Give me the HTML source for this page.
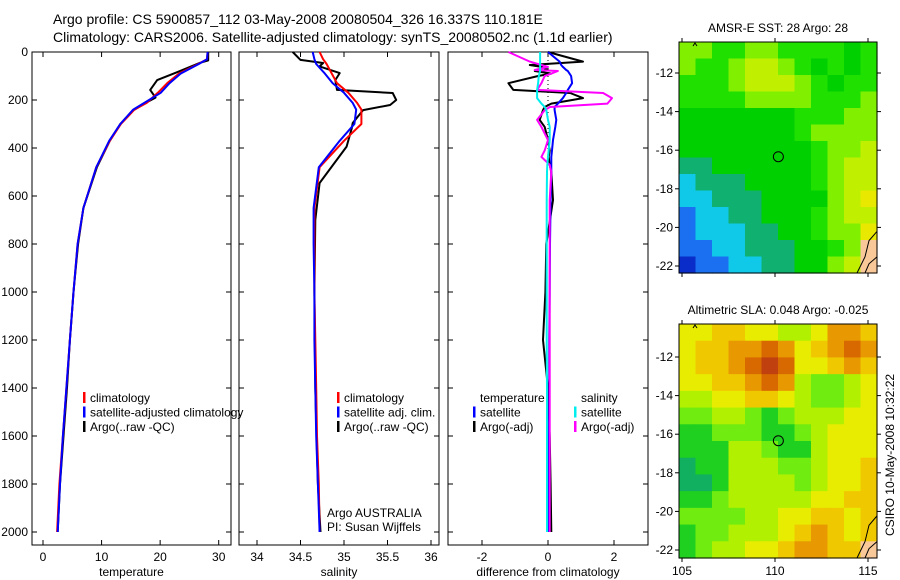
<!DOCTYPE html>
<html><head><meta charset="utf-8"><style>
html,body{margin:0;padding:0;background:#fff;}
svg{display:block;font-family:"Liberation Sans",sans-serif;}
</style></head><body>
<svg id="fig" width="900" height="580" viewBox="0 0 900 580" xmlns="http://www.w3.org/2000/svg"></svg>
<script>
// ---------- data ----------
const climDepth = [0,30,50,90,130,170,212,240,300,370,480,650,800,1000,1200,1400,1600,1800,2000];
const climTemp  = [28.1,28.0,26.5,23.2,21.2,19.6,17.7,15.6,13.3,11.4,9.1,6.9,5.9,5.2,4.6,4.0,3.4,2.8,2.4];
const satTemp   = [28.1,28.0,26.6,23.5,21.6,20.1,17.3,15.4,13.2,11.3,9.1,6.9,5.9,5.2,4.6,4.0,3.4,2.9,2.5];
const argoDepth = [0,35,45,85,117,158,190,215,245,300,370,480,650,800,1000,1200,1400,1600,1800,2000];
const argoTemp  = [28.2,28.2,26.8,22.8,19.5,18.3,19.2,17.3,15.3,13.2,11.4,9.2,6.9,6.0,5.2,4.6,4.1,3.5,2.9,2.5];

const climSal = [34.72,34.76,34.80,34.86,34.92,35.05,35.15,35.20,35.20,35.00,34.72,34.66,34.66,34.66,34.67,34.68,34.69,34.71,34.72];
const satSal  = [34.64,34.66,34.68,34.78,34.87,35.00,35.10,35.14,35.12,34.95,34.71,34.65,34.65,34.66,34.66,34.67,34.68,34.70,34.72];
const argoSalDepth = [0,33,46,60,88,117,158,171,200,221,242,296,317,394,546,700,1000,1400,1800,2000];
const argoSal = [34.41,34.50,34.76,34.72,34.95,34.90,34.92,35.56,35.60,35.53,35.22,35.10,35.09,35.03,34.72,34.67,34.66,34.67,34.70,34.73];

const diffDepth = [0,40,54,62,75,79,90,100,130,158,171,192,215,229,242,283,312,367,410,437,470,500,617,800,1000,1200,1400,1600,1800,2000];
const diffSatT  = [0,0.35,0.4,0.45,0.55,0.6,0.65,0.7,0.73,0.6,0.55,0.45,0.3,0.2,0.2,0.25,0.22,0.15,0.12,0.1,0.1,0.1,0.08,0.06,0.05,0.04,0.04,0.03,0.03,0.03];
const diffArgoT = [0,1.06,-0.55,-0.2,0,-0.4,0.1,-0.3,-1.2,-1.05,0.67,1.06,0.1,-0.1,-0.15,-0.25,-0.1,0,0.05,0.02,0.05,0.1,0.15,-0.05,-0.08,-0.15,0.0,0.05,0.08,0.1];
const diffSatS  = [-0.24,-0.24,-0.24,-0.24,-0.24,-0.24,-0.26,-0.28,-0.3,-0.33,-0.33,-0.33,-0.2,-0.1,-0.05,0,0.05,0.05,0.02,0.0,-0.02,-0.03,-0.04,-0.04,-0.04,-0.04,-0.03,-0.03,-0.03,-0.03];
const diffArgoS = [-1.2,-0.55,-0.2,0,-0.4,0.3,0.1,-0.1,-0.2,-0.33,1.67,1.94,1.8,0.06,-0.1,-0.33,-0.2,0,-0.1,-0.2,0.05,0.1,0.05,0.05,0.05,0.05,0.05,0.05,0.05,0.05];

const depthTicks = [0,200,400,600,800,1000,1200,1400,1600,1800,2000];
const tempTicks = [0,10,20,30];
const salTicks = [34,34.5,35,35.5,36];
const diffTicks = [-2,0,2];
const latTicks = [-12,-14,-16,-18,-20,-22];
const lonTicks = [105,110,115];

const sstGrid = [
[6,6,5,5,6,6,5,5,5,5,4,5],
[6,5,5,6,7,7,6,5,4,5,4,5],
[5,5,5,6,7,7,7,6,5,4,5,5],
[5,5,5,5,6,6,6,6,5,5,5,6],
[4,4,4,4,4,4,4,5,5,5,6,6],
[4,4,4,4,4,4,4,5,6,6,6,6],
[4,4,4,4,4,4,4,4,5,6,6,7],
[3,3,4,4,4,4,4,4,5,6,7,7],
[2,3,3,3,4,4,4,4,5,6,7,7],
[2,2,3,3,3,4,4,4,4,6,7,8],
[1,2,2,3,3,4,4,4,5,6,7,7],
[1,2,2,2,3,3,4,4,5,6,6,8],
[1,1,2,2,3,3,3,4,4,5,6,9],
[0,1,1,2,2,3,3,4,4,6,7,9]];
const slaGrid = [
[4,4,5,5,4,4,3,3,4,6,6,5],
[4,5,5,6,6,7,6,4,5,6,7,6],
[4,5,5,6,7,8,7,4,4,5,6,5],
[4,4,5,5,6,7,6,3,2,2,3,4],
[3,3,4,4,5,5,4,3,2,2,3,4],
[2,2,3,3,2,1,2,3,3,3,4,4],
[1,1,2,2,2,1,1,2,3,4,4,4],
[1,1,1,3,3,2,1,1,3,4,4,4],
[0,1,1,3,3,3,2,2,3,4,4,5],
[0,0,1,3,3,3,3,2,3,4,4,5],
[1,1,2,3,3,3,3,3,4,4,5,5],
[2,2,2,2,3,3,4,4,5,5,4,5],
[1,2,2,3,3,3,4,5,6,5,4,5],
[1,2,3,3,4,4,5,6,6,5,5,9]];
const argoLon = 110.181, argoLat = -16.337;

// ---------- helpers ----------
const NS="http://www.w3.org/2000/svg";
const svg=document.getElementById('fig');
function mk(tag,attrs,parent){const e=document.createElementNS(NS,tag);for(const k in attrs)e.setAttribute(k,attrs[k]);(parent||svg).appendChild(e);return e;}
function txt(s,x,y,anchor,size,parent){const t=mk('text',{x:x,y:y,'text-anchor':anchor||'start','font-size':size||12,fill:'#000'},parent);t.textContent=s;return t;}

const yD = d => 52 + d*0.24;
const panels = [
 {name:'temperature', x0:32, x1:231, v0:-1.88, v1:32.1, ticks:tempTicks, label:'temperature'},
 {name:'salinity', x0:239, x1:439, v0:33.793, v1:36.092, ticks:salTicks, label:'salinity'},
 {name:'difference', x0:448, x1:648, v0:-3.03, v1:3.03, ticks:diffTicks, label:'difference from climatology'}];
const PT=52, PB=545;
function xf(p){return v=>p.x0+(v-p.v0)/(p.v1-p.v0)*(p.x1-p.x0);}

// titles
let t1=txt('Argo profile: CS 5900857_112 03-May-2008 20080504_326 16.337S 110.181E',53,24,'start',14);

let t2=txt('Climatology: CARS2006. Satellite-adjusted climatology: synTS_20080502.nc (1.1d earlier)',53,42,'start',14);


panels.forEach((p,pi)=>{
  const g=mk('g',{});
  
  
  mk('rect',{x:p.x0,y:PT,width:p.x1-p.x0,height:PB-PT,fill:'none',stroke:'#000','stroke-width':1},g);
  const X=xf(p);
  p.ticks.forEach(v=>{
    const x=X(v);
    mk('line',{x1:x,y1:PB,x2:x,y2:PB-5,stroke:'#000'},g);
    mk('line',{x1:x,y1:PT,x2:x,y2:PT+5,stroke:'#000'},g);
    const l=txt(String(v),x,561,'middle',12,g);
    
    
  });
  depthTicks.forEach(d=>{
    const y=yD(d);
    mk('line',{x1:p.x0,y1:y,x2:p.x0+5,y2:y,stroke:'#000'},g);
    mk('line',{x1:p.x1,y1:y,x2:p.x1-5,y2:y,stroke:'#000'},g);
    if(pi===0){const l=txt(String(d),28,y+4,'end',12,g);
      
      }
  });
  const xl=txt(p.label,(p.x0+p.x1)/2,576,'middle',12,g);
  
  
});

function line(xs,ds,X,color,name,w){
  const pts=xs.map((v,i)=>X(v).toFixed(1)+','+yD(ds[i]).toFixed(1)).join(' ');
  const e=mk('polyline',{points:pts,fill:'none',stroke:color,'stroke-width':w||2,'stroke-linejoin':'round'});
  
  
}
const XT=xf(panels[0]),XS=xf(panels[1]),XD=xf(panels[2]);
line(argoTemp,argoDepth,XT,'#000','argo-temperature-line');
line(climTemp,climDepth,XT,'#f00','climatology-temperature-line');
line(satTemp,climDepth,XT,'#00f','satellite-temperature-line');
line(argoSal,argoSalDepth,XS,'#000','argo-salinity-line');
line(climSal,climDepth,XS,'#f00','climatology-salinity-line');
line(satSal,climDepth,XS,'#00f','satellite-salinity-line');
// zero dotted line
const zl=mk('line',{x1:XD(0),y1:PT,x2:XD(0),y2:yD(420),stroke:'#000','stroke-dasharray':'1,3'});

line(diffArgoT,diffDepth,XD,'#000','argo-temperature-difference-line');
line(diffSatT,diffDepth,XD,'#00f','satellite-temperature-difference-line');
line(diffArgoS,diffDepth,XD,'#f0f','argo-salinity-difference-line');
line(diffSatS,diffDepth,XD,'#0ee','satellite-salinity-difference-line');

function legend(items,x,y0,name){
  const g=mk('g',{});
  
  
  items.forEach((it,i)=>{
    const y=y0+i*14.5;
    if(it[1]) mk('rect',{x:x,y:y-10,width:2.5,height:11,fill:it[1]},g);
    txt(it[0],x+7,y,'start',12,g);
  });
}
legend([['climatology','#f00'],['satellite-adjusted climatology','#00f'],['Argo(..raw -QC)','#000']],83,402,'temperature-legend');
legend([['climatology','#f00'],['satellite adj. clim.','#00f'],['Argo(..raw -QC)','#000']],337,402,'salinity-legend');
legend([['temperature',null],['satellite','#00f'],['Argo(-adj)','#000']],473,402,'temp-diff-legend');
legend([['salinity',null],['satellite','#0ee'],['Argo(-adj)','#f0f']],574,402,'sal-diff-legend');
// cover the legend overflow past panel 1 boundary
const a1=txt('Argo AUSTRALIA',327,517,'start',12);
const a2=txt('PI: Susan Wijffels',327,531,'start',12);

// ---------- maps ----------
const sstPal=['#0a2cc8','#1a70f0','#10c8e8','#10b070','#00d000','#20e000','#80f000','#c0f000','#e8e800','#f8c898'];
const slaPal=['#10b060','#20d020','#70ec10','#b0f000','#e8ec00','#f0c800','#e89800','#d86800','#c04010','#f8c898'];
function map(grid,pal,top,bot,latRef,title,name){
  const L=679,R=877;
  const g=mk('g',{});
  
  
  const rows=grid.length, cols=grid[0].length;
  const cw=(R-L)/cols, ch=(bot-top)/rows;
  grid.forEach((row,r)=>row.forEach((v,c)=>{
    mk('rect',{x:(L+c*cw).toFixed(2),y:(top+r*ch).toFixed(2),width:(cw+0.6).toFixed(2),height:(ch+0.6).toFixed(2),fill:pal[v]},g);
  }));
  const lx=lon=>682+(lon-105)*18.6;
  const ly=lat=>latRef+(-12-lat)*19.3;
  // coastline
  mk('path',{d:`M${R} ${top+(bot-top)*0.82} L${R-8} ${top+(bot-top)*0.86} L${R-12} ${top+(bot-top)*0.93} L${R-20} ${bot}`,fill:'none',stroke:'#000','stroke-width':1},g);
  mk('path',{d:`M${R} ${top+(bot-top)*0.93} L${R-8} ${top+(bot-top)*0.96} L${R-12} ${bot} L${R} ${bot} Z`,fill:'#f8c898',stroke:'#000','stroke-width':1},g);
  mk('rect',{x:L,y:top,width:R-L,height:bot-top,fill:'none',stroke:'#000'},g);
  mk('path',{d:`M${L+14} ${top+4} l2 -3 l2 3`,fill:'none',stroke:'#000'},g);
  latTicks.forEach(lat=>{const y=ly(lat);
    mk('line',{x1:L-4,y1:y,x2:L,y2:y,stroke:'#000'},g);
    mk('line',{x1:R,y1:y,x2:R+4,y2:y,stroke:'#000'},g);
    const l=txt(String(lat),673,y+4,'end',12,g);
    
    });
  lonTicks.forEach(lon=>{const x=lx(lon);
    mk('line',{x1:x,y1:top-4,x2:x,y2:top,stroke:'#000'},g);
    mk('line',{x1:x,y1:bot,x2:x,y2:bot+4,stroke:'#000'},g);});
  const c=mk('circle',{cx:lx(argoLon),cy:ly(argoLat),r:5,fill:'none',stroke:'#000','stroke-width':1},g);
  
  
  const t=txt(title,778,top-10,'middle',12,g);
  
  
}
map(sstGrid,sstPal,42,273,73,'AMSR-E SST: 28 Argo: 28','sst-map');
map(slaGrid,slaPal,324,558,357,'Altimetric SLA: 0.048 Argo: -0.025','sla-map');
lonTicks.forEach(lon=>{const l=txt(String(lon),682+(lon-105)*18.6,575,'middle',12);
  
  });
const cs=txt('CSIRO 10-May-2008 10:32:22',0,0,'middle',12);
cs.setAttribute('transform','translate(894,455) rotate(-90)');


</script>
</body></html>
